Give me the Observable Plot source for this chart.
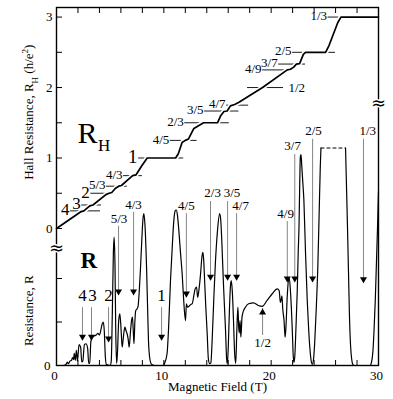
<!DOCTYPE html>
<html><head><meta charset="utf-8">
<script src="https://cdn.jsdelivr.net/npm/d3@7"></script>
<script src="https://cdn.jsdelivr.net/npm/@observablehq/plot@0.6"></script>
<style>body{margin:0;background:#fff;}</style>
</head><body><div id="chart"></div>
<script>
// ---- Hall resistance trace: field (T) and R_H (h/e^2)
const hallField = [0, 2.3, 2.55, 3.1, 3.4, 4.6, 4.9, 5.15, 5.5, 5.8, 6.05, 6.8, 7.1, 7.4, 7.9, 8.45, 11.1, 11.35, 11.7, 12.0, 12.3, 12.8, 13.7, 15.0, 15.3, 15.6, 15.9, 16.2, 16.6, 17.0, 19.2, 21.5, 21.8, 22.1, 22.35, 22.65, 23.0, 23.2, 25.07, 25.4, 26.2, 26.5, 30];
const hallRH    = [0, 0.24, 0.25, 0.32, 0.333, 0.48, 0.5, 0.51, 0.57, 0.6, 0.61, 0.71, 0.75, 0.76, 0.88, 1.0, 1.0, 1.06, 1.22, 1.25, 1.27, 1.42, 1.5, 1.5, 1.6, 1.66, 1.667, 1.74, 1.76, 1.79, 2.0, 2.25, 2.26, 2.29, 2.333, 2.34, 2.47, 2.5, 2.5, 2.6, 2.92, 3.0, 3.0];

// ---- Longitudinal resistance trace: field (T) and R (arb. units); null = off scale
const resField = [0, 0.6, 0.9, 1.0, 1.1, 1.25, 1.4, 1.5, 1.6, 1.65, 1.75, 1.85, 1.95, 2.1, 2.25, 2.35, 2.45, 2.6, 2.75, 2.9, 3.0, 3.1, 3.2, 3.35, 3.5, 3.7, 3.85, 4.0, 4.1, 4.25, 4.35, 4.45, 4.55, 4.65, 5.0, 5.1, 5.2, 5.3, 5.37, 5.45, 5.52, 5.6, 5.68, 5.8, 5.9, 6.0, 6.12, 6.25, 6.37, 6.48, 6.58, 6.68, 6.77, 6.9, 7.0, 7.08, 7.15, 7.22, 7.3, 7.38, 7.5, 7.6, 7.72, 7.83, 7.95, 8.05, 8.14, 8.25, 8.39, 8.5, 8.57, 8.7, 8.85, 9.2, 9.9, 10.05, 10.3, 10.45, 10.62, 10.8, 10.93, 11.05, 11.15, 11.27, 11.4, 11.55, 11.71, 11.85, 12.02, 12.1, 12.2, 12.35, 12.5, 12.64, 12.8, 12.9, 13.05, 13.15, 13.3, 13.42, 13.55, 13.64, 13.72, 13.8, 13.92, 14.04, 14.15, 14.27, 14.38, 14.5, 14.65, 14.8, 15.0, 15.2, 15.3, 15.4, 15.55, 15.75, 15.85, 15.92, 16.0, 16.1, 16.2, 16.28, 16.38, 16.47, 16.6, 16.7, 16.8, 16.9, 16.97, 17.03, 17.1, 17.18, 17.28, 17.35, 17.6, 17.9, 18.37, 18.8, 19.17, 19.6, 20.1, 20.57, 20.75, 20.85, 20.92, 21.0, 21.08, 21.2, 21.3, 21.38, 21.5, 21.62, 21.7, 21.8, 21.97, 22.05, 22.12, 22.2, 22.3, 22.43, 22.52, 22.6, 22.67, 22.72, 22.78, 22.85, 22.95, 23.05, 23.2, 23.36, 23.5, 23.6, 23.72, 23.83, 23.95, 24.05, 24.2, 24.35, 24.48, 24.58, 24.64, 25.8, 26.93, 27.0, 27.1, 27.2, 27.3, 27.4, 27.5, 27.6, 27.75, 29.2, 29.35, 29.5, 29.6, 29.7, 29.8, 29.9, 30.0];
const resR     = [0, 0, 0.03, 0.08, 0.04, 0.1, 0.12, 0.18, 0.14, 0.28, 0.12, 0.35, 0.1, 0.48, 0.42, 0.08, 0.1, 0.48, 0.5, 0.4, 0.05, 0.05, 0.55, 0.66, 0.68, 0.7, 0.74, 0.7, 0.78, 0.95, 1.0, 0.8, 0.2, 0.02, 0.0, 0.1, 1.2, 2.6, 2.95, 2.3, 0.8, 0.05, 0.3, 1.05, 1.19, 0.9, 0.42, 0.7, 0.88, 0.8, 0.73, 0.6, 0.42, 0.8, 1.05, 1.11, 0.8, 0.5, 1.0, 1.26, 1.3, 1.36, 1.75, 2.26, 2.9, 3.35, 3.49, 3.2, 2.26, 1.2, 0.57, 0.15, 0.03, 0, 0, 0.04, 0.27, 0.9, 1.95, 2.8, 3.33, 3.55, 3.58, 3.45, 3.1, 2.6, 2.1, 1.5, 1.03, 1.42, 1.34, 1.36, 1.4, 1.42, 1.61, 1.75, 1.8, 1.57, 1.8, 2.1, 2.5, 2.6, 2.4, 1.95, 1.3, 0.73, 0.15, 0.04, 0.06, 0.57, 1.5, 2.34, 3.1, 3.49, 3.35, 2.87, 1.9, 0.8, 0.15, 0.04, 0.4, 1.2, 1.8, 1.95, 1.7, 1.18, 0.27, 0.05, 0.8, 1.34, 0.9, 0.75, 1.03, 0.65, 1.1, 1.2, 1.34, 1.42, 1.44, 1.38, 1.36, 1.49, 1.65, 1.76, 1.72, 1.45, 1.5, 1.6, 1.3, 1.03, 0.65, 0.9, 1.6, 1.97, 1.99, 1.7, 0.8, 0.25, 0.07, 0.2, 0.8, 1.72, 2.6, 3.26, 4.3, 4.8, 4.85, 4.6, 4.2, 3.79, 2.6, 1.5, 0.8, 0.42, 0.12, 0.03, 0.15, 0.5, 1.3, 2.3, 3.6, 4.6, 5.0, null, 5.0, 4.3, 3.3, 2.2, 1.1, 0.45, 0.15, 0.03, 0, 0, 0.08, 0.4, 0.9, 1.5, 2.3, 3.1, 4.0];

// ---- Hall plateau reference lines
const plateauLabels = ["4", "3", "2", "5/3", "4/3", "1", "4/5", "2/3", "3/5", "4/7", "1/2", "4/9", "3/7", "2/5", "1/3"];
const plateauRH     = [0.25, 1/3, 0.5, 0.6, 0.75, 1, 1.25, 1.5, 5/3, 1.75, 2, 2.25, 7/3, 2.5, 3];
const plateauFrom   = [1.3, 2.35, 3.2, 4.66, 6.25, 7.65, 10.6, 11.95, 13.8, 15.85, 17.8, 19.2, 20.7, 22.0, 25.3];
const plateauTo     = [4.1, 4.2, 5.0, 6.6, 8.0, 11.85, 13.1, 16.1, 17.0, 17.9, 21.15, 21.8, 23.2, 26.0, 26.8];

// ---- Filling-factor arrows on the R trace
const arrowLabels = ["4", "3", "2", "5/3", "4/3", "1", "4/5", "2/3", "3/5", "4/7", "1/2", "4/9", "3/7", "2/5", "1/3"];
const arrowField  = [2.42, 3.26, 4.85, 5.78, 7.18, 9.79, 12.1, 14.35, 15.94, 16.78, 19.2, 21.5, 22.2, 23.86, 28.6];
const arrowLabelField = [2.42, 3.35, 4.85, 5.82, 7.18, 9.79, 12.1, 14.55, 16.35, 17.15, 19.2, 21.35, 22.0, 23.95, 29.0];
const arrowLabelR = [1.61, 1.61, 1.61, 3.38, 3.7, 1.61, 3.68, 3.97, 3.97, 3.66, 0.51, 3.49, 5.06, 5.4, 5.4];
const arrowTailR  = [1.33, 1.33, 1.33, 3.2, 3.52, 1.33, 3.49, 3.77, 3.77, 3.49, 0.69, 3.31, 4.85, 5.2, 5.2];
const arrowTipR   = [0.57, 0.57, 0.53, 1.61, 1.61, 0.57, 1.56, 1.95, 1.95, 1.95, 1.31, 1.91, 1.91, 1.91, 1.89];

// ---- axis ticks
const fieldTicks = d3.range(0, 31, 2);
const fieldLabels = [0, 10, 20, 30];
const hallTicks = [0, 0.5, 1, 1.5, 2, 2.5, 3];
const hallTickLabels = [0, 1, 2, 3];
const resTicks = [1, 2];

// Offset of the Hall trace above the R trace (as in the original figure)
const HALL_OFFSET = 3.15, HALL_SCALE = 1.62;
const toY = rh => HALL_OFFSET + HALL_SCALE * rh;

const hall = hallField.map((B, i) => ({B, y: toY(hallRH[i])}));
const res = resField.map((B, i) => ({B, R: resR[i]}));
const gap = resR.indexOf(null);
const bridge = [res[gap - 1], res[gap + 1]];
const plateaus = plateauLabels.map((label, i) => ({label, y: toY(plateauRH[i]), x1: plateauFrom[i], x2: plateauTo[i], frac: label.includes("/")}));
const arrows = arrowLabels.map((label, i) => ({label, B: arrowField[i], LB: arrowLabelField[i], L: arrowLabelR[i], tail: arrowTailR[i], tip: arrowTipR[i], up: arrowTipR[i] > arrowTailR[i], frac: label.includes("/")}));

const serif = "Liberation Serif";
const F = {fontFamily: serif};

const chart = Plot.plot({
  width: 393, height: 399,
  marginLeft: 56, marginRight: 15, marginTop: 7, marginBottom: 34,
  x: {domain: [0, 30]},
  y: {domain: [0, 8.23]},
  style: {fontFamily: serif, fontSize: "13px", color: "black", background: "white"},
  marks: [
    // Hall plateau reference lines and labels
    Plot.ruleY(plateaus, {y: "y", x1: "x1", x2: "x2", stroke: "black", strokeWidth: 0.9}),
    Plot.line(hall, {x: "B", y: "y", stroke: "white", strokeWidth: 5}),
    Plot.line(hall, {x: "B", y: "y", stroke: "black", strokeWidth: 1.7}),
    Plot.text(plateaus.filter(d => d.label !== "1/2"), {...F, x: "x1", y: "y", text: "label", textAnchor: "end", dx: -1, dy: -1, fontSize: d => d.frac ? 13 : (d.label === "1" ? 19 : 17)}),
    Plot.text(plateaus.filter(d => d.label === "1/2"), {...F, x: "x2", y: "y", text: "label", textAnchor: "start", dx: 5, fontSize: 13}),

    // Longitudinal resistance
    Plot.line(res, {x: "B", y: "R", stroke: "black", strokeWidth: 1.2, curve: "monotone-x"}),
    Plot.line(bridge, {x: "B", y: "R", stroke: "black", strokeWidth: 1.2, strokeDasharray: "3,3"}),

    // Arrows
    Plot.ruleX(arrows, {x: "B", y1: "tail", y2: "tip", stroke: "#777", strokeWidth: 0.9}),
    Plot.dot(arrows.filter(d => !d.up), {x: "B", y: "tip", symbol: "triangle", r: 2.6, rotate: 180, dy: -4, fill: "black", stroke: null}),
    Plot.dot(arrows.filter(d => d.up), {x: "B", y: "tip", symbol: "triangle", r: 2.6, dy: 4, fill: "black", stroke: null}),
    Plot.text(arrows, {...F, x: "LB", y: "L", text: "label", fontSize: d => d.frac ? 13 : 17}),

    // Panel labels
    Plot.text(["R"], {...F, x: () => 2.89, y: () => toY(1.35), text: d => d, fontSize: 30}),
    Plot.text(["H"], {...F, x: () => 4.45, y: () => toY(1.17), text: d => d, fontSize: 17}),
    Plot.text(["R"], {...F, x: () => 3.0, y: () => 2.41, text: d => d, fontSize: 23, fontWeight: "bold"}),

    // Frame, axes
    Plot.frame({stroke: "black", strokeWidth: 1.4}),
    Plot.axisX({anchor: "bottom", ticks: fieldTicks, tickSize: -5, tickFormat: () => "", label: null}),
    Plot.axisX({anchor: "top", ticks: fieldTicks, tickSize: -5, tickFormat: () => "", label: null}),
    Plot.axisX({...F, anchor: "bottom", ticks: fieldLabels, tickSize: 0, tickPadding: 5, dx: -2, fontSize: 13, label: null}),
    Plot.axisY({anchor: "left", ticks: hallTicks.map(toY), tickSize: -6, tickFormat: () => "", label: null}),
    Plot.axisY({anchor: "left", ticks: resTicks, tickSize: -6, tickFormat: () => "", label: null}),
    Plot.axisY({...F, anchor: "left", ticks: hallTickLabels.map(toY), tickSize: 0, tickPadding: 4, fontSize: 13, tickFormat: v => String(Math.round((v - HALL_OFFSET) / HALL_SCALE)), label: null}),
    Plot.axisY({...F, anchor: "left", ticks: [0], tickSize: 0, tickPadding: 6, fontSize: 13, tickFormat: () => "0", label: null}),

    // Axis break marks
    Plot.text(["≈"], {frameAnchor: "left", y: () => 2.7, text: d => d, textAnchor: "middle", fontSize: 18, fontFamily: "DejaVu Serif", stroke: "white", strokeWidth: 3, fill: "black"}),
    Plot.text(["≈"], {frameAnchor: "right", y: () => 6.02, text: d => d, textAnchor: "middle", fontSize: 18, fontFamily: "DejaVu Serif", stroke: "white", strokeWidth: 3, fill: "black"}),

    // Axis titles
    Plot.text(["HALLTITLE"], {...F, frameAnchor: "left", y: () => toY(1.65), text: d => d, textAnchor: "middle", rotate: -90, dx: -28, fontSize: 13}),
    Plot.text(["Resistance, R"], {...F, frameAnchor: "left", y: () => 1.26, text: d => d, textAnchor: "middle", rotate: -90, dx: -28, fontSize: 13}),
    Plot.text(["Magnetic Field (T)"], {...F, frameAnchor: "bottom", text: d => d, textAnchor: "middle", dy: 25, fontSize: 13})
  ]
});

chart.querySelectorAll("text").forEach(t => {
  if (t.textContent === "HALLTITLE") {
    const host = t.querySelector("tspan") || t;
    host.innerHTML = 'Hall Resistance, R<tspan baseline-shift="sub" font-size="9">H</tspan> (h/e<tspan baseline-shift="super" font-size="9">2</tspan>)';
  }
});
document.getElementById("chart").appendChild(chart);
</script>
</body></html>
